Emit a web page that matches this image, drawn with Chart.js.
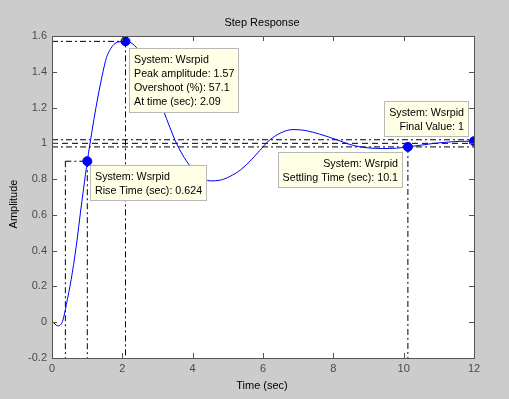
<!DOCTYPE html>
<html><head><meta charset="utf-8">
<style>html,body{margin:0;padding:0;background:#cccccc;overflow:hidden}#wrap{width:509px;height:399px;position:relative}</style>
<script src="https://cdn.jsdelivr.net/npm/chart.js@4.4.1/dist/chart.umd.min.js"></script>
</head><body><div id="wrap"><canvas id="c" width="509" height="399"></canvas></div>
<script>
// ---- data ----
const chartTitle = 'Step Response';
const xAxisTitle = 'Time (sec)';
const yAxisTitle = 'Amplitude';
const systemName = 'Wsrpid';
const timeSec = [0,0.05,0.12,0.18,0.24,0.3,0.38,0.44,0.51,0.58,0.65,0.72,0.8,0.9,1.004,1.13,1.25,1.36,1.45,1.55,1.67,1.79,1.93,2.09,2.3,2.5,2.7,2.9,3.16,3.35,3.5,3.7,3.92,4.2,4.5,4.78,5.06,5.35,5.63,5.91,6.14,6.5,6.85,7.2,7.6,8.1,8.4,8.76,9.1,9.4,9.8,10.12,10.5,10.83,11.2,11.6,12];
const amplitude = [0,-0.003,-0.017,-0.02,-0.015,0.005,0.07,0.13,0.2,0.28,0.37,0.47,0.6,0.75,0.9,1.06,1.2,1.315,1.4,1.48,1.53,1.558,1.568,1.57,1.555,1.51,1.44,1.35,1.19,1.09,1.017,0.94,0.875,0.82,0.79,0.794,0.815,0.85,0.9,0.96,1.01,1.058,1.077,1.072,1.052,1.02,0.998,0.98,0.973,0.971,0.973,0.98,0.99,0.999,1.006,1.011,1.012];
const xTickValues = [0,2,4,6,8,10,12];
const yTickValues = [-0.2,0,0.2,0.4,0.6,0.8,1,1.2,1.4,1.6];
const xRange = [0,12];
const yRange = [-0.2,1.6];
const peakTime = 2.09, peakAmp = 1.57, overshootPct = 57.1;
const riseStart = 0.38, riseEnd = 1.004, riseAmp = 0.9, riseTime = 0.624;
const settleTime = 10.12, settleAmp = 0.98, settleShown = 10.1;
const finalTime = 12, finalAmp = 1.012, finalValue = 1;
const bandUpper = 1.02, steadyState = 1, bandLower = 0.98;

// ---- build ----
const FONT = "'Liberation Sans', Arial, sans-serif";
const dashDot = [6,3,2,3];
const dashed = [6,4];
const yMin = yRange[0];
function seg(x1,y1,x2,y2,dash){
  return {data:[{x:x1,y:y1},{x:x2,y:y2}],borderColor:'#000',borderWidth:1,borderDash:dash,pointRadius:0,tension:0,order:2,fill:false};
}
const datasets = [
  {data:[{x:peakTime,y:peakAmp},{x:riseEnd,y:riseAmp},{x:settleTime,y:settleAmp},{x:finalTime,y:finalAmp}],
   showLine:false,pointRadius:4.5,pointBackgroundColor:'#0000ff',pointBorderColor:'#0000ff',pointBorderWidth:1,order:0},
  {data:timeSec.map((t,i)=>({x:t,y:amplitude[i]})),borderColor:'#0000ff',borderWidth:1,pointRadius:0,cubicInterpolationMode:'monotone',order:1,fill:false},
  seg(xRange[0],peakAmp,peakTime,peakAmp,dashDot),
  seg(peakTime,peakAmp,peakTime,yMin,dashDot),
  seg(riseStart,riseAmp,riseEnd,riseAmp,dashDot),
  seg(riseStart,riseAmp,riseStart,yMin,dashDot),
  seg(riseEnd,riseAmp,riseEnd,yMin,dashDot),
  seg(xRange[0],bandUpper,xRange[1],bandUpper,dashDot),
  seg(xRange[0],steadyState,xRange[1],steadyState,dashed),
  seg(xRange[0],bandLower,xRange[1],bandLower,dashDot),
  seg(settleTime,settleAmp,settleTime,yMin,dashDot)
];

const tips = [
  {x:peakTime,y:peakAmp,corner:'tl',dx:4,dy:7,align:'left',
   lines:['System: '+systemName,'Peak amplitude: '+peakAmp,'Overshoot (%): '+overshootPct,'At time (sec): '+peakTime]},
  {x:riseEnd,y:riseAmp,corner:'tl',dx:3,dy:4,align:'left',
   lines:['System: '+systemName,'Rise Time (sec): '+riseTime]},
  {x:settleTime,y:settleAmp,corner:'tr',dx:-5,dy:5,align:'right',
   lines:['System: '+systemName,'Settling Time (sec): '+settleShown]},
  {x:finalTime,y:finalAmp,corner:'br',dx:-5,dy:-4,align:'right',
   lines:['System: '+systemName,'Final Value: '+finalValue]}
];

const decor = {
  id:'decor',
  beforeDraw(chart){
    const {ctx,chartArea:a} = chart;
    ctx.save();
    ctx.fillStyle = '#cccccc';
    ctx.fillRect(0,0,chart.width,chart.height);
    ctx.fillStyle = '#ffffff';
    ctx.fillRect(a.left,a.top,a.right-a.left,a.bottom-a.top);
    ctx.restore();
  },
  afterDatasetsDraw(chart){
    const {ctx,chartArea:a,scales} = chart;
    const xs = scales.x, ys = scales.y;
    ctx.save();
    // frame
    ctx.strokeStyle = '#555555';
    ctx.lineWidth = 1;
    ctx.strokeRect(a.left+0.5,a.top+0.5,a.right-a.left,a.bottom-a.top);
    ctx.beginPath();
    xTickValues.forEach(v=>{
      const px = Math.round(xs.getPixelForValue(v))+0.5;
      ctx.moveTo(px,a.bottom); ctx.lineTo(px,a.bottom-5);
      ctx.moveTo(px,a.top); ctx.lineTo(px,a.top+5);
    });
    yTickValues.forEach(v=>{
      const py = Math.round(ys.getPixelForValue(v))+0.5;
      ctx.moveTo(a.left,py); ctx.lineTo(a.left+5,py);
      ctx.moveTo(a.right,py); ctx.lineTo(a.right-5,py);
    });
    ctx.stroke();
    // data tips
    ctx.font = '10.7px '+FONT;
    const lh = 14.2, padX = 5, padY = 4;
    tips.forEach(t=>{
      const mx = xs.getPixelForValue(t.x), my = ys.getPixelForValue(t.y);
      const w = Math.round(Math.max(...t.lines.map(s=>ctx.measureText(s).width)) + 2*padX);
      const h = Math.round(t.lines.length*lh + 2*padY);
      let left = t.corner[1]==='l' ? mx+t.dx : mx+t.dx-w;
      let top = t.corner[0]==='t' ? my+t.dy : my+t.dy-h;
      left = Math.round(left); top = Math.round(top);
      ctx.fillStyle = '#ffffe6';
      ctx.fillRect(left,top,w,h);
      ctx.strokeStyle = '#b8b8b8';
      ctx.strokeRect(left+0.5,top+0.5,w-1,h-1);
      ctx.fillStyle = '#000';
      ctx.textBaseline = 'middle';
      ctx.textAlign = t.align;
      t.lines.forEach((s,i)=>{
        const tx = t.align==='left' ? left+padX : left+w-padX;
        ctx.fillText(s,tx,top+padY+lh*(i+0.5)+0.5);
      });
    });
    ctx.restore();
  },
  afterDraw(chart){
    const {ctx,chartArea:a} = chart;
    ctx.save();
    ctx.fillStyle = '#000';
    ctx.font = '11px '+FONT;
    ctx.textAlign = 'center';
    ctx.textBaseline = 'middle';
    const cx = (a.left+a.right)/2 - 1;
    ctx.fillText(chartTitle,cx,23);
    ctx.fillText(xAxisTitle,cx,386);
    ctx.translate(14,204);
    ctx.rotate(-Math.PI/2);
    ctx.fillText(yAxisTitle,0,0);
    ctx.restore();
  }
};

new Chart(document.getElementById('c'),{
  type:'line',
  data:{datasets},
  plugins:[decor],
  options:{
    responsive:false,animation:false,devicePixelRatio:1,
    layout:{padding:{left:0,top:36,right:35,bottom:0}},
    plugins:{legend:{display:false},tooltip:{enabled:false},title:{display:false}},
    scales:{
      x:{type:'linear',min:xRange[0],max:xRange[1],
         afterBuildTicks:s=>{s.ticks = xTickValues.map(v=>({value:v}));},
         afterFit:s=>{s.height = 41;},
         grid:{display:false,drawTicks:false},border:{display:false},
         ticks:{font:{family:FONT,size:11},color:'#4a4a4a',padding:4,maxRotation:0,autoSkip:false,callback:v=>String(v)}},
      y:{type:'linear',min:yRange[0],max:yRange[1],
         afterBuildTicks:s=>{s.ticks = yTickValues.map(v=>({value:v}));},
         afterFit:s=>{s.width = 52;},
         grid:{display:false,drawTicks:false},border:{display:false},
         ticks:{font:{family:FONT,size:11},color:'#4a4a4a',padding:5,autoSkip:false,callback:v=>String(v)}}
    }
  }
});
</script></body></html>
